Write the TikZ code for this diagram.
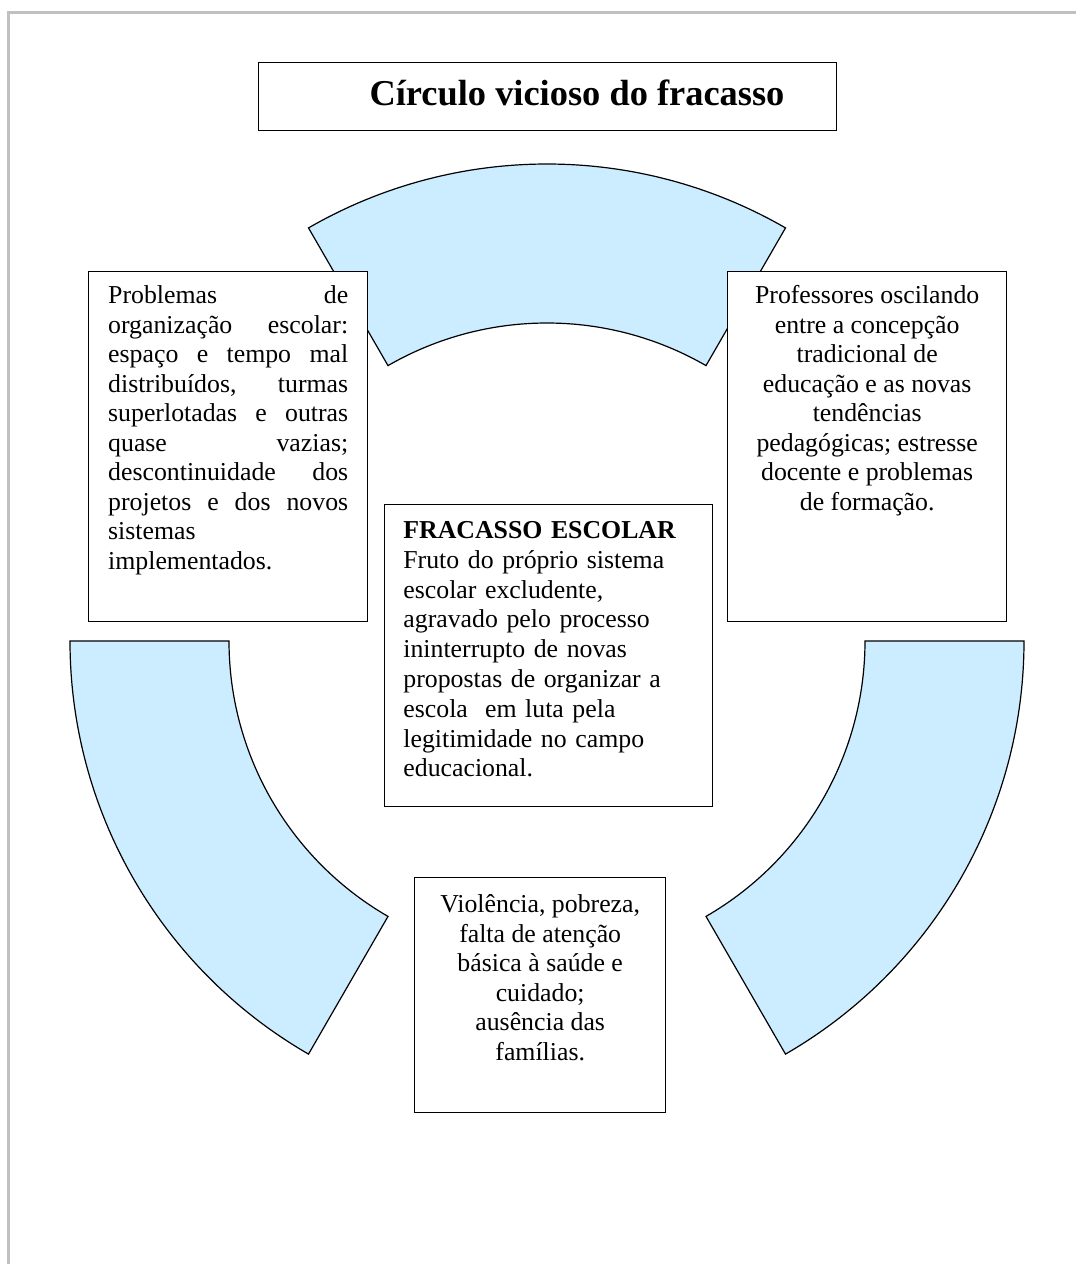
\documentclass[tikz,border=0pt]{standalone}
\usepackage{fontspec}
\setmainfont{Liberation Serif}
\usetikzlibrary{positioning}
\usetikzlibrary{calc}
\definecolor{bandblue}{RGB}{204,236,255}
\definecolor{pagegray}{RGB}{192,192,192}
\newcommand{\jline}[1]{\makebox[120pt][s]{\spaceskip=0.25em plus 1fil\relax #1}}

\begin{document}
\begin{tikzpicture}
		[
			x = 0.5pt, y = 0.5pt,
			band/.style = {fill = bandblue, draw = black, line width = 0.6pt},
			frame/.style = {rectangle, draw = black, fill = white, line width = 0.7pt, inner sep = 0pt, anchor = north west},
			words/.style = {inner sep = 0pt, font = \fontsize{12.9}{14.75}\selectfont},
		]
		\useasboundingbox (0,0) rectangle (1076,-1264);
		\draw[pagegray, line width = 1.5pt] (8,-1264) -- (8,-12) -- (1076,-12);
		\coordinate (hub) at (547,-641);
		\foreach \a in {60,180,300}
			\draw[band] ($(hub)+(\a:477)$) arc[start angle = \a, end angle = \a+60, radius = 477] -- ($(hub)+(\a+60:318)$) arc[start angle = \a+60, end angle = \a, radius = 318] -- cycle;
		\node (titlebox) [frame, minimum width = 289pt, minimum height = 34pt] at (258,-62) {};
		\node (title) [words, font = \fontsize{18.2}{22}\selectfont\bfseries, anchor = base] at (577,-105) {Círculo vicioso do fracasso};
		\node (org) [frame, minimum width = 139.5pt, minimum height = 175pt] at (88,-271) {};
		\node (orgtext) [words, text width = 120pt, align = left, anchor = north] at ([yshift = -7.2pt]org.north)
			{\jline{Problemas de}\\ \jline{organização escolar:}\\ \jline{espaço e tempo mal}\\ \jline{distribuídos, turmas}\\ \jline{superlotadas e outras}\\ \jline{quase vazias;}\\ \jline{descontinuidade dos}\\ \jline{projetos e dos novos}\\ sistemas\\ implementados.};
		\node (profs) [frame, minimum width = 139.5pt, minimum height = 175pt] at (727,-271) {};
		\node (profstext) [words, align = center, anchor = north] at ([yshift = -7.2pt]profs.north)
			{Professores oscilando\\ entre a concepção\\ tradicional de\\ educação e as novas\\ tendências\\ pedagógicas; estresse\\ docente e problemas\\ de formação.};
		\node (fracasso) [frame, minimum width = 164pt, minimum height = 151pt] at (384,-504) {};
		\node (fracassotext) [words, font = \fontsize{12.9}{14.9}\selectfont, text width = 150pt, align = left, anchor = north west] at ([xshift = 9.5pt, yshift = -8.5pt]fracasso.north west)
			{\textbf{FRACASSO ESCOLAR}\\ Fruto do próprio sistema\\ escolar excludente,\\ agravado pelo processo\\ ininterrupto de novas\\ propostas de organizar a\\ escola\ \ em luta pela\\ legitimidade no campo\\ educacional.};
		\node (social) [frame, minimum width = 125.5pt, minimum height = 117.5pt] at (414,-877) {};
		\node (socialtext) [words, align = center, anchor = north] at ([yshift = -8.7pt]social.north)
			{Violência, pobreza,\\ falta de atenção\\ básica à saúde e\\ cuidado;\\ ausência das\\ famílias.};
\end{tikzpicture}
\end{document}
